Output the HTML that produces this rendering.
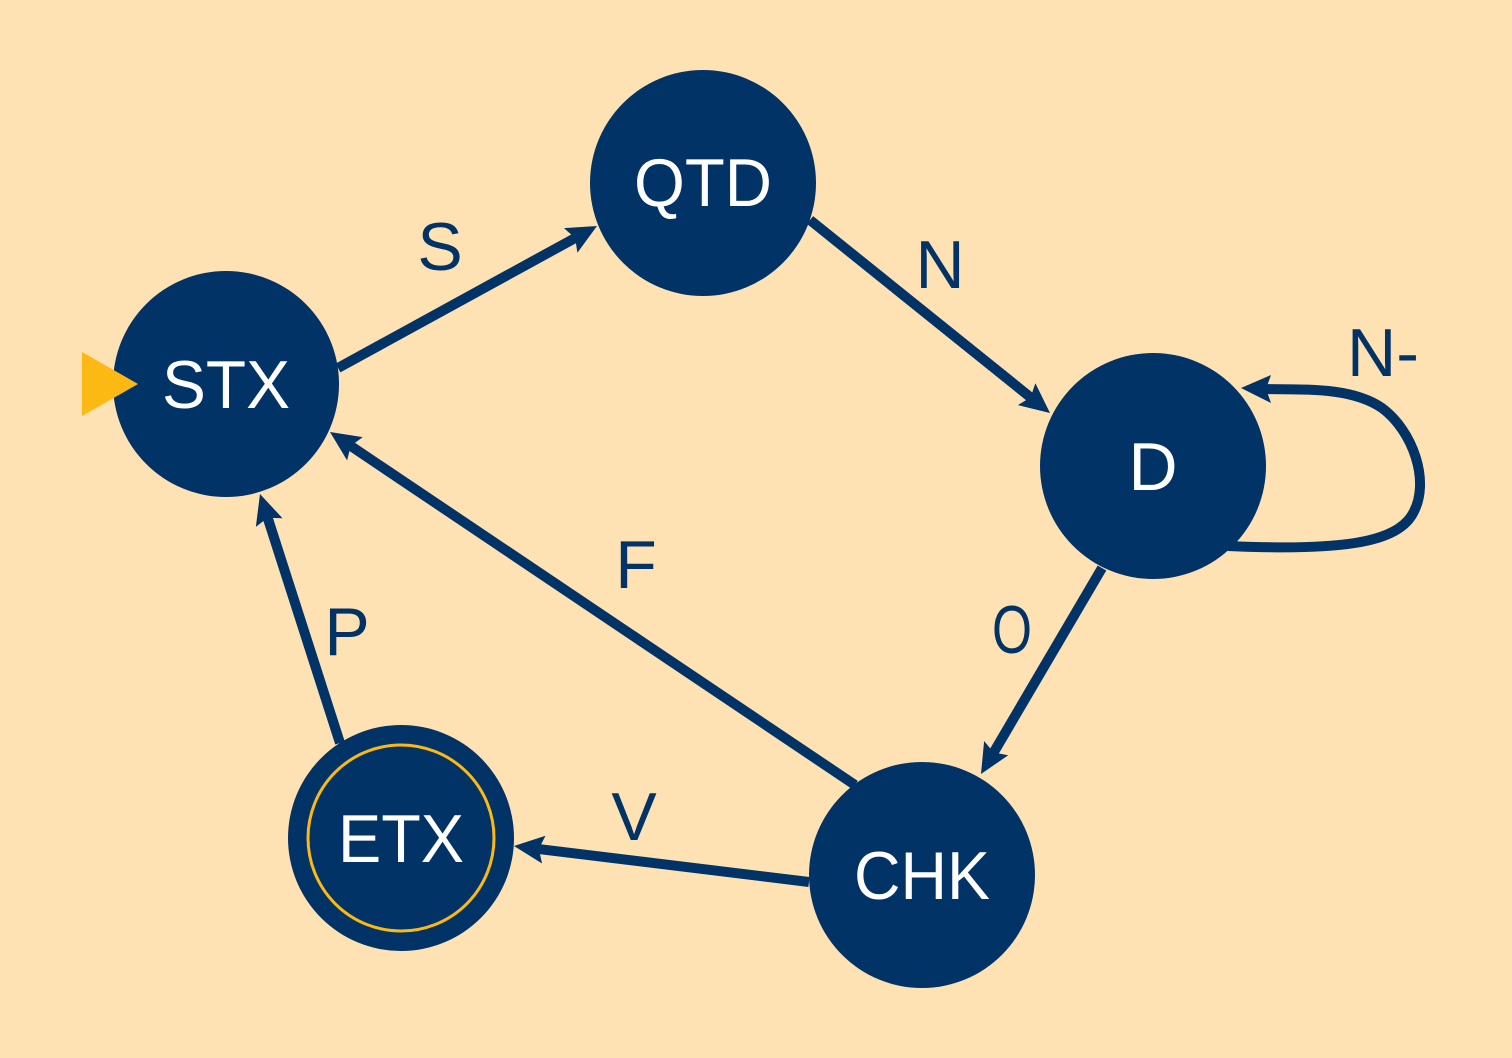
<!DOCTYPE html>
<html><head><meta charset="utf-8"><style>
html,body{margin:0;padding:0;background:#FFE2B4;}
svg{display:block;}
text{font-family:"Liberation Sans",sans-serif;}
</style></head><body>
<svg id="s" width="1512" height="1058" viewBox="0 0 1512 1058" xmlns="http://www.w3.org/2000/svg">
<rect width="1512" height="1058" fill="#FFE2B4"/>
<g id="e" stroke="#023366" stroke-width="10" fill="none">
<path d="M1228,546 C1340,551 1395,543 1412,515 C1432,482 1412,430 1382,408 C1350,386 1300,390 1262,389"/>
</g>
<polygon points="1241,388 1271,375 1266,389 1271,403" fill="#023366"/>
<g id="h" fill="#023366"></g>
<g fill="#023366">
<circle cx="226" cy="384" r="113"/>
<circle cx="703" cy="183" r="113"/>
<circle cx="1153" cy="466" r="113"/>
<circle cx="922" cy="875" r="113"/>
<circle cx="401" cy="838" r="113"/>
</g>
<circle cx="401" cy="838" r="93" fill="none" stroke="#FDB913" stroke-width="3"/>
<polygon points="82,352 138,384 82,416" fill="#FDB913"/>
<g fill="#fff" font-size="68" text-anchor="middle">
<text x="226" y="408" textLength="128" lengthAdjust="spacingAndGlyphs">STX</text>
<text x="703" y="206" textLength="138" lengthAdjust="spacingAndGlyphs">QTD</text>
<text x="1153" y="490">D</text>
<text x="922" y="899" textLength="136" lengthAdjust="spacingAndGlyphs">CHK</text>
<text x="401" y="862" textLength="126" lengthAdjust="spacingAndGlyphs">ETX</text>
</g>
<g fill="#023366" font-size="68" text-anchor="middle">
<text x="440" y="270">S</text>
<text x="940" y="288">N</text>
<text x="1383" y="376" textLength="72" lengthAdjust="spacingAndGlyphs">N-</text>
<text x="1012" y="653" textLength="40" lengthAdjust="spacingAndGlyphs">O</text>
<text x="636" y="588">F</text>
<text x="347" y="655">P</text>
<text x="634" y="840">V</text>
</g>
</svg>
<script>
var A=[[338,368,597,226],[810,220,1050,413],[1102,568,981,774],[809,882,514,846],[855,785,330,432],[340,743,260,494]];
var ns="http://www.w3.org/2000/svg",e=document.getElementById('e'),h=document.getElementById('h');
A.forEach(function(a){var dx=a[2]-a[0],dy=a[3]-a[1],L=Math.hypot(dx,dy),ux=dx/L,uy=dy/L,px=-uy,py=ux;
var l=document.createElementNS(ns,'line');l.setAttribute('x1',a[0]);l.setAttribute('y1',a[1]);
l.setAttribute('x2',a[2]-ux*22);l.setAttribute('y2',a[3]-uy*22);e.appendChild(l);
var bx=a[2]-ux*30,by=a[3]-uy*30,nx=a[2]-ux*25,ny=a[3]-uy*25;
var p=document.createElementNS(ns,'polygon');
p.setAttribute('points',[a[2],a[3],bx+px*14,by+py*14,nx,ny,bx-px*14,by-py*14].join(' '));h.appendChild(p);});
</script>
</body></html>
